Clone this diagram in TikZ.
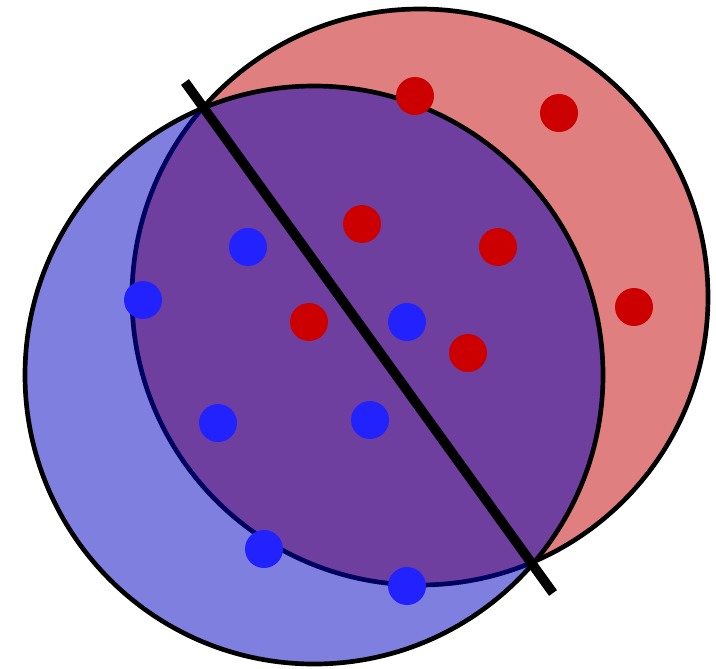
\documentclass[tikz,border=0pt]{standalone}
\definecolor{cred}{HTML}{C00000}
\definecolor{cblue}{HTML}{0000C0}
\definecolor{dred}{HTML}{CC0000}
\definecolor{dblue}{HTML}{2222FF}
\tikzset{
  region/.style={draw=black,line width=3.5pt,fill opacity=0.5},
  rdot/.style={circle,fill=dred,inner sep=0pt,minimum size=28.5pt},
  bdot/.style={circle,fill=dblue,inner sep=0pt,minimum size=28.5pt},
}
\begin{document}
\begin{tikzpicture}[x=0.75pt,y=-0.75pt]
\useasboundingbox (0,0) rectangle (716,668);
\node[region,circle,fill=cred,minimum size=576*0.75pt,inner sep=0pt] (red) at (420,297) {};
\node[region,circle,fill=cblue,minimum size=578*0.75pt,inner sep=0pt] (blue) at (314,375) {};
\foreach \p [count=\i] in {(415,96),(559,113),(362,224),(498,247),(634,307),(309,322),(468,353)}
  \node[rdot] (r\i) at \p {};
\foreach \p [count=\i] in {(248,247),(143,300),(407,322),(218,423),(370,420),(264,549),(407,586)}
  \node[bdot] (b\i) at \p {};
\coordinate (s1) at (185,82);
\coordinate (s2) at (553,593);
\draw[line width=7.3pt] (s1) -- (s2);
\end{tikzpicture}
\end{document}
